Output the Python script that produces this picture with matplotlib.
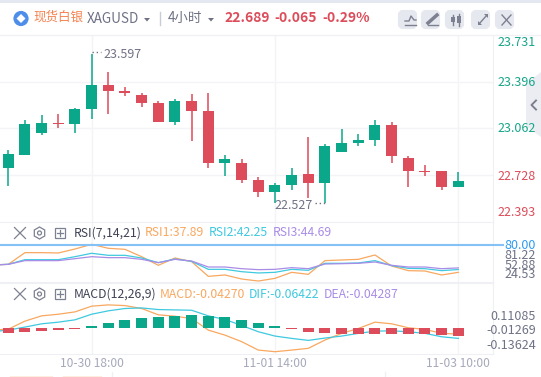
import numpy as np
import matplotlib
matplotlib.use('Agg')
import matplotlib.pyplot as plt
import matplotlib.patches as mpatches

plt.rcParams['font.family'] = ['Noto Sans CJK SC', 'DejaVu Sans']

W, H = 541, 377

# candles
opens = [22.781, 22.875, 23.033, 23.098, 23.091, 23.199, 23.371, 23.328, 23.299, 23.242,
         23.105, 23.256, 23.184, 22.817, 22.817, 22.695, 22.609, 22.659, 22.738, 22.674,
         22.896, 22.961, 22.983, 23.084, 22.853, 22.760, 22.760, 22.645]
closes = [22.882, 23.091, 23.098, 23.091, 23.199, 23.371, 23.328, 23.314, 23.242, 23.105,
          23.256, 23.184, 22.817, 22.846, 22.695, 22.609, 22.659, 22.731, 22.674, 22.940,
          22.961, 22.983, 23.084, 22.868, 22.760, 22.753, 22.645, 22.688]
highs = [22.911, 23.120, 23.156, 23.163, 23.206, 23.597, 23.465, 23.357, 23.314, 23.256,
         23.271, 23.307, 23.314, 22.875, 22.846, 22.717, 22.673, 22.781, 23.004, 22.954,
         23.055, 23.026, 23.120, 23.105, 22.868, 22.803, 22.760, 22.753]
lows = [22.652, 22.875, 23.012, 23.069, 23.033, 23.127, 23.163, 23.292, 23.213, 23.105,
        23.084, 22.976, 22.781, 22.724, 22.674, 22.573, 22.527, 22.623, 22.566, 22.527,
        22.896, 22.940, 22.940, 22.817, 22.645, 22.724, 22.623, 22.645]
price_ticks = [23.396, 23.062, 22.728]

# indicator lines start one candle left of the visible window
rsi1 = [49.2, 50.2, 68.2, 68.2, 67.7, 73.8, 81.0, 74.9, 73.3, 62.0, 48.7, 60.0, 54.3, 31.7,
        33.8, 27.6, 24.5, 28.6, 37.9, 34.8, 55.9, 56.9, 57.9, 64.6, 47.6, 40.5, 39.9, 33.8, 37.9]
rsi2 = [49.2, 50.2, 57.4, 57.4, 57.4, 62.0, 67.2, 64.1, 64.1, 60.0, 52.8, 58.4, 54.8, 42.5,
        42.5, 38.9, 36.9, 37.9, 42.5, 41.0, 51.8, 51.8, 52.3, 55.9, 48.2, 44.0, 43.5, 40.5, 42.2]
rsi3 = [49.2, 50.2, 55.9, 55.9, 55.9, 58.9, 62.0, 60.5, 60.5, 57.9, 52.8, 57.9, 55.3, 46.1,
        46.1, 43.5, 42.0, 42.5, 45.1, 43.5, 50.7, 51.2, 51.8, 53.8, 48.7, 46.1, 46.1, 43.5, 44.7]

macd_line = [-0.017, -0.009, 0.060, 0.105, 0.119, 0.139, 0.188, 0.199, 0.193, 0.168, 0.114,
             0.102, 0.082, -0.017, -0.060, -0.116, -0.188, -0.202, -0.188, -0.173, -0.102,
             -0.045, -0.003, 0.051, 0.037, 0.003, -0.011, -0.045, -0.051]
dif_line = [-0.031, -0.017, 0.009, 0.037, 0.051, 0.071, 0.119, 0.148, 0.168, 0.173, 0.159,
            0.156, 0.153, 0.105, 0.074, 0.023, -0.031, -0.068, -0.088, -0.105, -0.085,
            -0.068, -0.045, -0.026, -0.023, -0.031, -0.045, -0.074, -0.088]
hist = [-0.0267, -0.0196, -0.016, -0.0107, -0.0053, 0.0089, 0.0267, 0.0427, 0.0534, 0.0587,
        0.0641, 0.0694, 0.0641, 0.0587, 0.0427, 0.0267, 0.0089, -0.0036, -0.0231, -0.0267,
        -0.032, -0.0338, -0.032, -0.032, -0.032, -0.032, -0.0374, -0.0427]

time_pos = [5, 16, 27]
time_labels = ['10-30 18:00', '11-01 14:00', '11-03 10:00']

GREEN = '#0aa78a'
RED = '#dc4c5a'
ORANGE = '#f8a860'
CYAN = '#3fc9df'
PURPLE = '#a98ce6'
GRID = '#f3f4f7'
GREY = '#6f7285'
ICON = '#7d8091'

fig = plt.figure(figsize=(W / 100, H / 100), dpi=100, facecolor='white')


def panel(top, bottom):
    ax = fig.add_axes([0, 1 - bottom / H, 493 / W, (bottom - top) / H])
    ax.set_xlim(-0.498, 29.08)
    ax.set_xticks(time_pos)
    ax.tick_params(length=0, labelbottom=False, labelleft=False)
    ax.grid(True, color=GRID, lw=1)
    ax.set_axisbelow(True)
    ax.spines['left'].set_visible(False)
    for s in ['top', 'bottom', 'right']:
        ax.spines[s].set_color('#eef0f4')
    return ax


# main candles
ax = panel(35, 222)
ax.set_ylim(22.393, 23.731)
ax.set_yticks(price_ticks)
idx = np.arange(len(opens))
cols = [GREEN if c >= o else RED for o, c in zip(opens, closes)]
ax.vlines(idx, lows, highs, colors=cols, lw=1.1, zorder=2)
ax.bar(idx, np.abs(np.array(closes) - np.array(opens)), bottom=np.minimum(opens, closes),
       width=0.66, color=cols, zorder=3)
ax.spines['top'].set_visible(False)

# rsi
ax2 = panel(222, 282)
ax2.set_ylim(23.0, 115.4)
ax2.set_yticks([])
xs = np.arange(-1, len(opens))
ax2.plot(xs, rsi1, color=ORANGE, lw=0.9)
ax2.plot(xs, rsi2, color=CYAN, lw=0.9)
ax2.plot(xs, rsi3, color=PURPLE, lw=0.9)
ax2.axhline(80, xmin=0, xmax=503 / 493, color='#84c1f7', lw=1.5, clip_on=False, zorder=4)

# macd, the bars have their own scale
ax3 = panel(283, 354)
ax3.set_ylim(-0.2216, 0.3864)
ax3.set_yticks([])
ax3.set_xticks(time_pos)
ax3.set_xticklabels(time_labels, fontsize=8.7, color='#a6a9bb')
ax3.tick_params(labelbottom=True, pad=2)
ax3.plot(xs, macd_line, color=ORANGE, lw=0.9, zorder=2)
ax3.plot(xs, dif_line, color=CYAN, lw=0.9, zorder=2)
ax3b = ax3.twinx()
ax3b.set_ylim(-0.1388, 0.242)
ax3b.set_yticks([])
ax3b.patch.set_visible(False)
for s in ax3b.spines.values():
    s.set_visible(False)
ax3b.bar(idx, hist, width=0.66, color=[GREEN if v >= 0 else RED for v in hist], zorder=3)

# overlay in pixel coords for the header, labels and icons
ov = fig.add_axes([0, 0, 1, 1])
ov.set_xlim(0, W)
ov.set_ylim(H, 0)
ov.axis('off')
ov.patch.set_visible(False)


def txt(x, y, s, color=GREY, size=9, ha='left', **kw):
    ov.text(x, y, s, color=color, fontsize=size, ha=ha, va='center', **kw)


def button(x):
    ov.add_patch(mpatches.FancyBboxPatch((x + 2, 12), 15, 15, boxstyle='round,pad=0,rounding_size=3',
                                         fc='#e6e8ef', ec='#e6e8ef', lw=3))


def tool_icons(y):
    # x, hexagon and plus box in front of each indicator name
    ov.plot([14.5, 25.5], [y - 5.5, y + 5.5], color=ICON, lw=0.9)
    ov.plot([14.5, 25.5], [y + 5.5, y - 5.5], color=ICON, lw=0.9)
    ov.add_patch(mpatches.RegularPolygon((39.5, y), 6, radius=6, fc='none', ec=ICON, lw=0.9))
    ov.add_patch(mpatches.Circle((39.5, y), 2, fc='none', ec=ICON, lw=0.9))
    ov.add_patch(mpatches.Rectangle((54.5, y - 5), 10, 10, fc='none', ec=ICON, lw=0.9))
    ov.plot([56.5, 62.5], [y, y], color=ICON, lw=0.9)
    ov.plot([59.5, 59.5], [y - 3, y + 3], color=ICON, lw=0.9)


# page strip on top
ov.add_patch(mpatches.Rectangle((0, 0), W, 3, fc='#e4e8f0', ec='none'))
ov.plot([0, W], [35, 35], color='#f0f1f5', lw=1)

# header
ov.add_patch(mpatches.Circle((21, 18.5), 7.6, fc='#4f8ee8', ec='none'))
ov.add_patch(mpatches.RegularPolygon((21, 18.5), 4, radius=4.5, fc='white', ec='none'))
txt(33, 17.5, '现货白银', color='#f5824f', size=9)
txt(87, 19, 'XAGUSD', size=9.7)
ov.add_patch(mpatches.Polygon([[144, 18], [150, 18], [147, 21.5]], fc=GREY, ec='none'))
ov.plot([160, 160], [12, 25], color='#c9ccd6', lw=1)
txt(168, 17.5, '4小时', size=9.7)
ov.add_patch(mpatches.Polygon([[208, 18], [214, 18], [211, 21.5]], fc=GREY, ec='none'))
txt(224, 17.5, '22.689', color=RED, size=10, fontweight='bold')
txt(274, 17.5, '-0.065', color=RED, size=10, fontweight='bold')
txt(322, 17.5, '-0.29%', color=RED, size=10, fontweight='bold')

for bx in [398, 421, 445, 471, 495]:
    button(bx)
ov.plot([405, 409, 411, 414, 416], [21, 21, 16, 20, 20], color=ICON, lw=1)
ov.plot([405, 416], [24.5, 24.5], color=ICON, lw=1)
ov.plot([428, 437], [23, 15], color=ICON, lw=2.5)
ov.plot([428, 438], [25, 25], color=ICON, lw=1)
ov.plot([453, 453], [15, 25], color=ICON, lw=1)
ov.add_patch(mpatches.Rectangle((451, 17), 4, 5, fc=ICON, ec='none'))
ov.plot([459, 459], [14, 26], color=ICON, lw=1)
ov.add_patch(mpatches.Rectangle((457, 16), 4, 7, fc=ICON, ec='none'))
# expand arrow
ov.plot([479, 487], [24, 15], color=ICON, lw=1)
ov.add_patch(mpatches.Polygon([[478, 21], [478, 25], [482, 25]], fc=ICON, ec='none'))
ov.add_patch(mpatches.Polygon([[484, 14], [488, 14], [488, 18]], fc=ICON, ec='none'))
ov.plot([502, 511], [15, 25], color=ICON, lw=1)
ov.plot([502, 511], [25, 15], color=ICON, lw=1)

# price labels, the outer two are clamped inside the panel
txt(536, 43, '23.731', color='#16a58a', ha='right')
txt(536, 82.5, '23.396', color='#16a58a', ha='right')
txt(536, 129, '23.062', color='#16a58a', ha='right')
txt(536, 177, '22.728', color=RED, ha='right')
txt(536, 212.5, '22.393', color=RED, ha='right')

# high and low marks
ov.plot([92, 101], [51.7, 51.7], color=GREY, lw=1, ls=(0, (1, 2)))
txt(103, 54.5, '23.597')
txt(274, 205.5, '22.527')
ov.plot([315, 325], [202.7, 202.7], color=GREY, lw=1, ls=(0, (1, 2)))

# side tab
ov.add_patch(mpatches.Polygon([[541, 72], [526, 84], [526, 126], [541, 137]], fc='#ecedf2', ec='none'))
ov.plot([536, 531.5, 536], [100.5, 105, 109.5], color=ICON, lw=1.4)

# rsi header
tool_icons(233)
txt(74, 233, 'RSI(7,14,21)', color='#3f4254', size=8.8)
txt(145, 233, 'RSI1:37.89', color=ORANGE, size=8.8)
txt(209, 233, 'RSI2:42.25', color=CYAN, size=8.8)
txt(272.5, 233, 'RSI3:44.69', color=PURPLE, size=8.8)
txt(536, 245.7, '80.00', color='#2f9bf0', ha='right')
txt(536, 255.7, '81.22', ha='right')
txt(536, 265.5, '52.88', ha='right')
txt(536, 275, '24.53', ha='right')

# macd header
tool_icons(294)
txt(74, 294, 'MACD(12,26,9)', color='#3f4254', size=8.8)
txt(160, 294, 'MACD:-0.04270', color=ORANGE, size=8.8)
txt(249, 294, 'DIF:-0.06422', color=CYAN, size=8.8)
txt(324, 294, 'DEA:-0.04287', color=PURPLE, size=8.8)
txt(536, 316.7, '0.11085', ha='right')
txt(536, 331, '-0.01269', ha='right')
txt(536, 345.7, '-0.13624', ha='right')

# bits of the page below the chart
ov.plot([10, 52], [376.5, 376.5], color=ORANGE, lw=1)
ov.plot([63, 101], [376.5, 376.5], color=ORANGE, lw=1)
ov.plot([112, 112], [372, 377], color='#eef0f4', lw=1)
ov.plot([385, 385], [372, 377], color='#eef0f4', lw=1)

fig.savefig('out.png', dpi=100, facecolor='white')
